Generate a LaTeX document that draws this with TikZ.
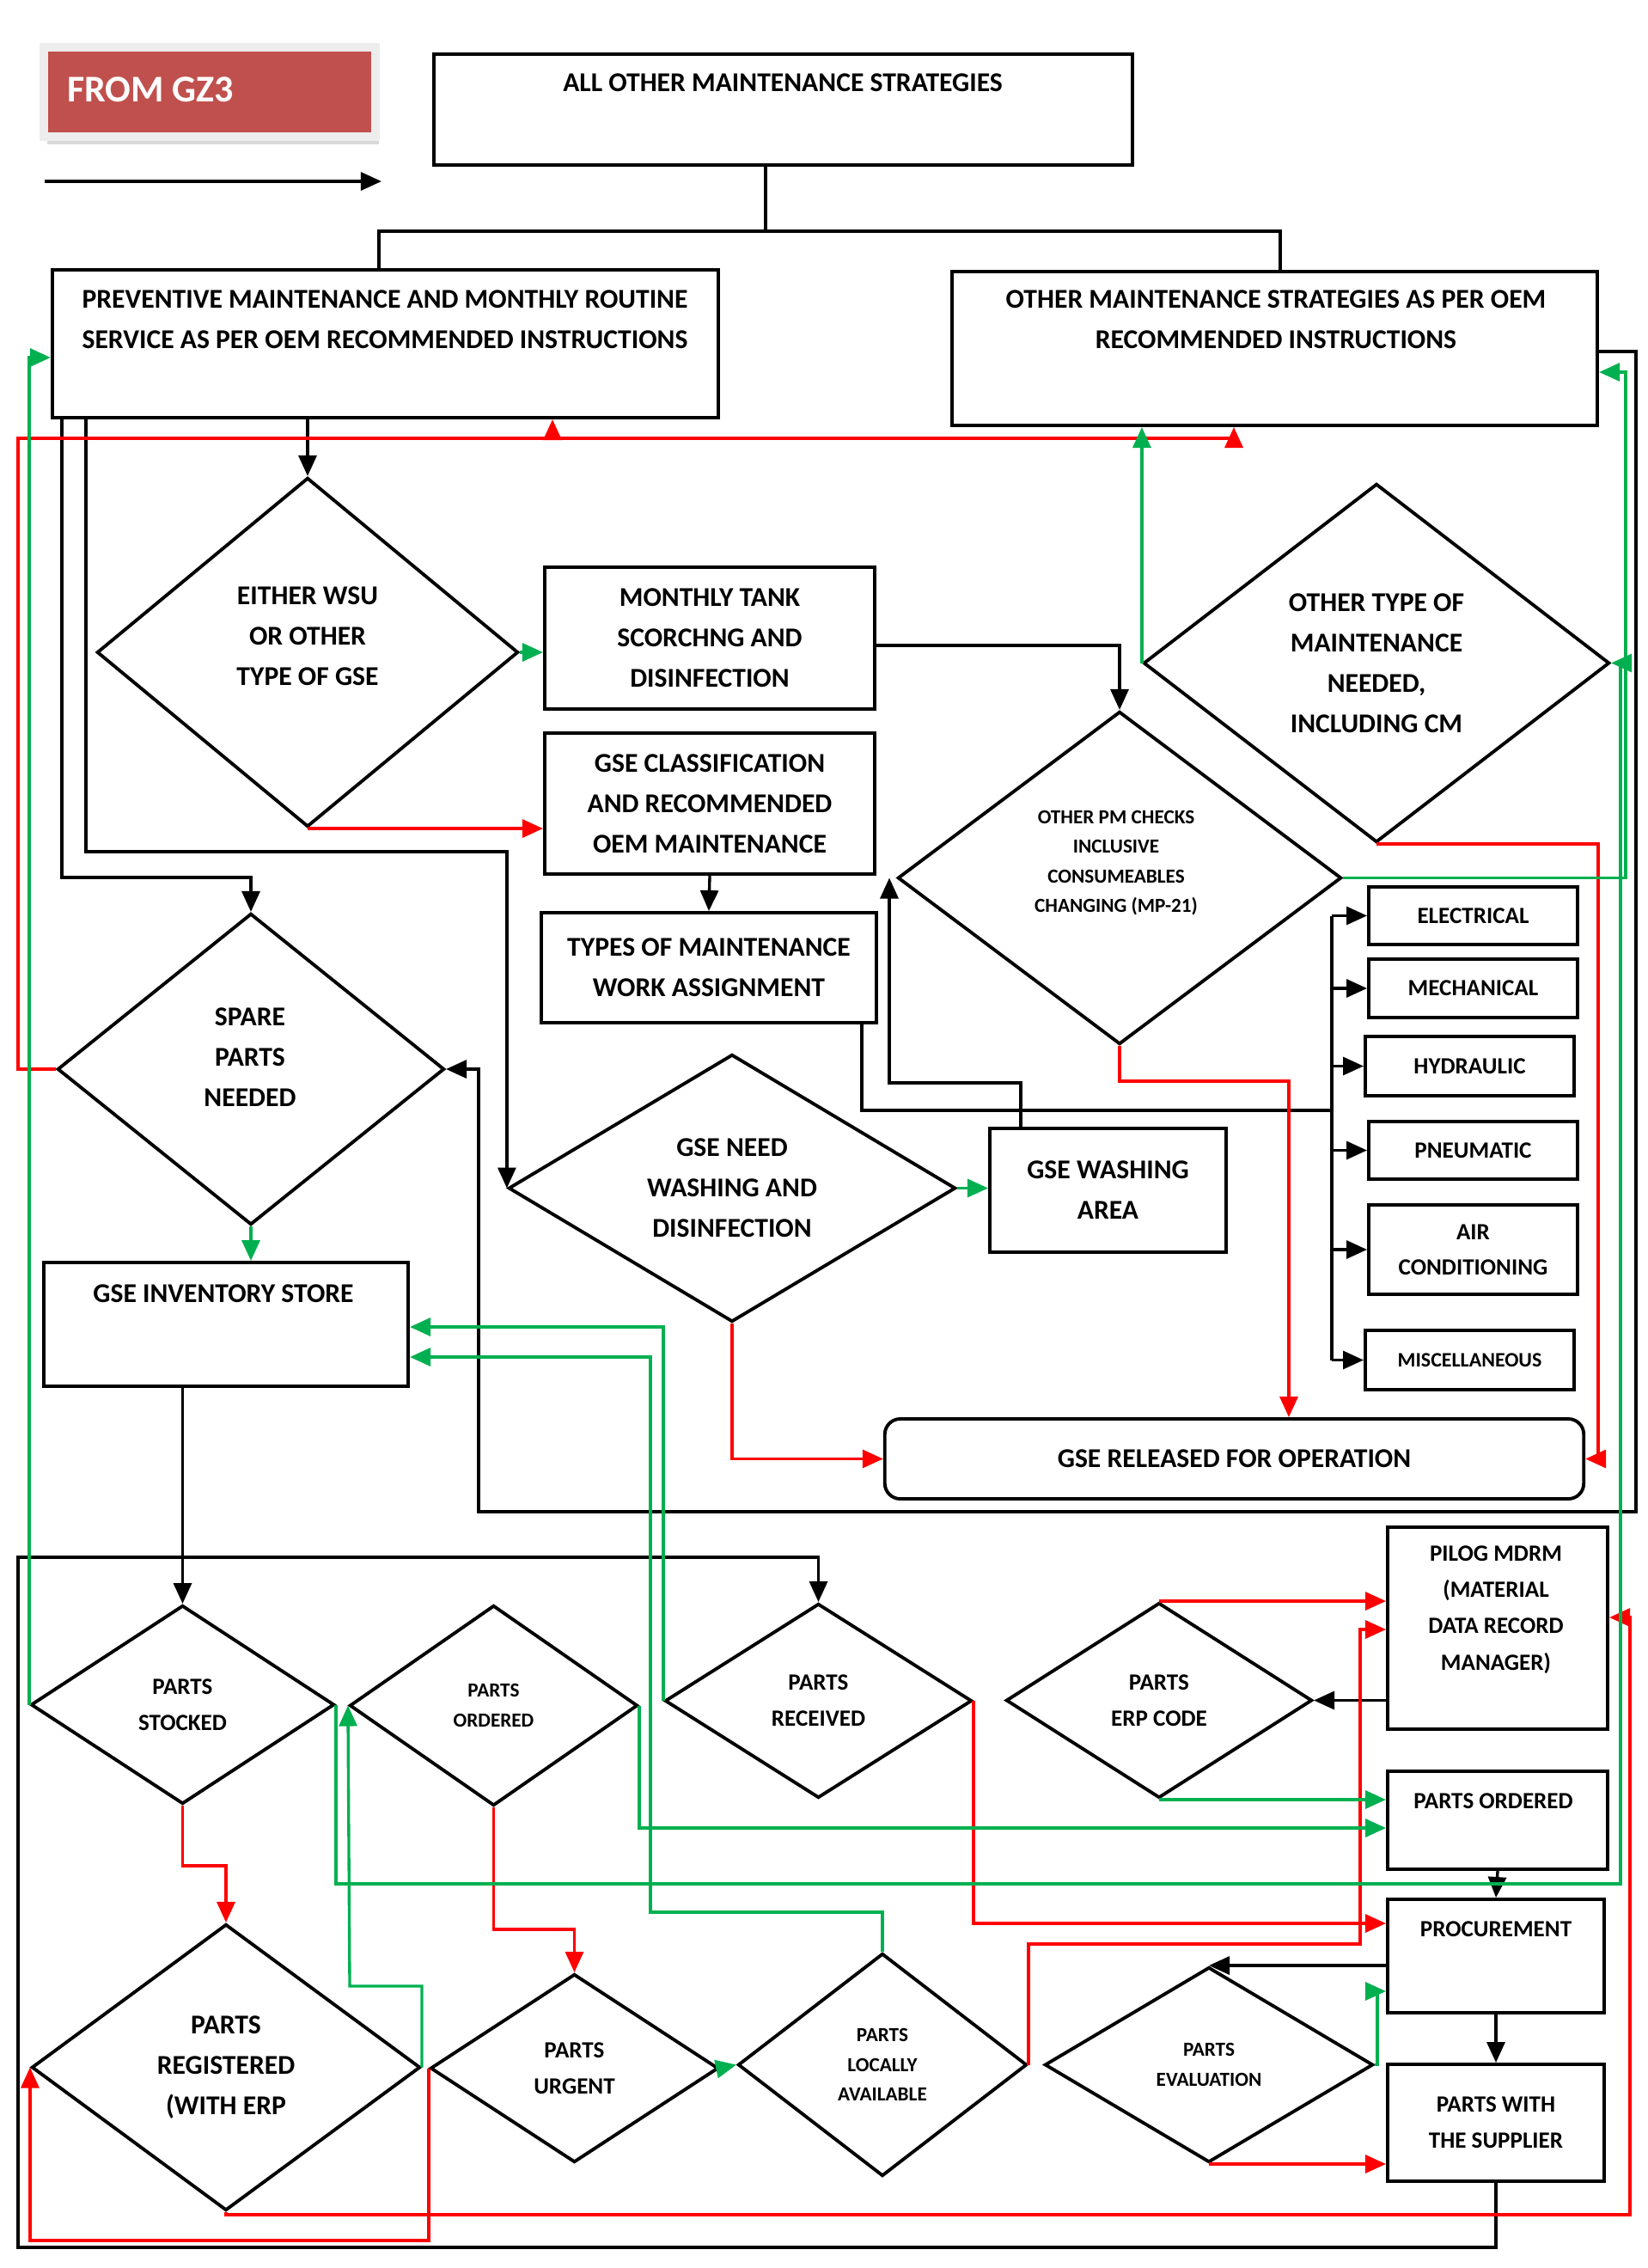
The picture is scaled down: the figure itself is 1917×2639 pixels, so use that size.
\documentclass[tikz,border=0pt]{standalone}
\usepackage{fontspec}
\setmainfont{Carlito}
\usetikzlibrary{shapes.geometric, arrows.meta, shadows}
\definecolor{gzred}{RGB}{192,80,77}
\definecolor{lnred}{RGB}{255,0,0}
\definecolor{lngreen}{RGB}{0,176,80}

\begin{document}
\begin{tikzpicture}[x=0.01cm, y=-0.01cm,
      font=\fontsize{9}{13.4}\selectfont\bfseries,
      box/.style={draw, line width=1.1pt, align=center, inner sep=1pt},
      dia/.style={draw, diamond, aspect=1.5, line width=1.1pt, align=center, inner sep=0pt},
      txt/.style={align=center, inner sep=0pt},
      mid/.style={font=\fontsize{7.7}{12}\selectfont\bfseries},
      sml/.style={font=\fontsize{6.6}{9.8}\selectfont\bfseries},
      cat/.style={box, minimum width=2.43cm, font=\fontsize{7.7}{11.6}\selectfont\bfseries},
      gzbox/.style={fill=gzred, draw=black!7, line width=0.1cm, minimum width=3.86cm, minimum height=1.04cm,
        drop shadow={shadow xshift=0.4mm, shadow yshift=-0.9mm, opacity=0.3}},
      ln/.style={line width=0.95pt},
      arr/.style={ln, -{Triangle[length=2.4mm, width=2.1mm]}},
      rarr/.style={arr, lnred},
      garr/.style={arr, lngreen}]
  \useasboundingbox (0,0) rectangle (1917,2639);

  % top row
  \node[gzbox] (gz) at (244,107) {};
  \node[font=\fontsize{12.5}{14}\selectfont\bfseries, text=white] (gzlbl) at (175,104) {FROM GZ3};
  \coordinate (gzA) at (52,211);
  \coordinate (gzB) at (444,211);
  \draw[arr] (gzA) -- (gzB);
  \node[box, minimum width=8.13cm, minimum height=1.29cm] (allo) at (911.5,127.5) {};
  \node[txt] (allot) at (911,96) {ALL OTHER MAINTENANCE STRATEGIES};
  \node[box, minimum width=7.75cm, minimum height=1.72cm] (pm) at (448.5,400) {};
  \node[txt] (pmt) at (448,372) {PREVENTIVE MAINTENANCE AND MONTHLY ROUTINE\\SERVICE AS PER OEM RECOMMENDED INSTRUCTIONS};
  \node[box, minimum width=7.51cm, minimum height=1.79cm] (oth) at (1483.5,405.5) {};
  \node[txt] (otht) at (1485,372) {OTHER MAINTENANCE STRATEGIES AS PER OEM\\RECOMMENDED INSTRUCTIONS};

  % middle part
  \node[dia, minimum width=4.9cm, minimum height=4.06cm] (wsu) at (358,759) {};
  \node[txt] (wsut) at (358,740) {EITHER WSU\\OR OTHER\\TYPE OF GSE};
  \node[box, minimum width=3.84cm, minimum height=1.65cm] (tank) at (826,742.5) {MONTHLY TANK\\SCORCHNG AND\\DISINFECTION};
  \node[box, minimum width=3.84cm, minimum height=1.64cm] (gcls) at (826,935) {GSE CLASSIFICATION\\AND RECOMMENDED\\OEM MAINTENANCE};
  \node[box, minimum width=3.9cm, minimum height=1.28cm] (types) at (825,1126) {TYPES OF MAINTENANCE\\WORK ASSIGNMENT};
  \node[dia, minimum width=5.16cm, minimum height=3.87cm] (chk) at (1303,1021.5) {};
  \node[txt, sml] (chkt) at (1299,1004) {OTHER PM CHECKS\\INCLUSIVE\\CONSUMEABLES\\CHANGING (MP-21)};
  \node[dia, minimum width=5.42cm, minimum height=4.17cm] (otype) at (1602,771.5) {OTHER TYPE OF\\MAINTENANCE\\NEEDED,\\INCLUDING CM};
  \node[dia, minimum width=4.5cm, minimum height=3.62cm] (spare) at (292,1244) {};
  \node[txt] (sparet) at (291,1230) {SPARE\\PARTS\\NEEDED};
  \node[dia, minimum width=5.2cm, minimum height=3.11cm] (need) at (852,1382.5) {GSE NEED\\WASHING AND\\DISINFECTION};
  \node[box, minimum width=2.75cm, minimum height=1.44cm] (wash) at (1289.5,1385) {GSE WASHING\\AREA};
  \node[box, minimum width=4.24cm, minimum height=1.44cm] (inv) at (263,1541) {};
  \node[txt] (invt) at (260,1505) {GSE INVENTORY STORE};
  \node[box, rounded corners=0.18cm, minimum width=8.13cm, minimum height=0.93cm] (rel) at (1436.5,1697.5) {GSE RELEASED FOR OPERATION};
  \node[cat, minimum height=0.67cm] (elec) at (1714.5,1065.5) {ELECTRICAL};
  \node[cat, minimum height=0.68cm] (mech) at (1714.5,1150) {MECHANICAL};
  \node[cat, minimum height=0.69cm] (hyd) at (1710.5,1240.5) {HYDRAULIC};
  \node[cat, minimum height=0.67cm] (pneu) at (1714.5,1338.5) {PNEUMATIC};
  \node[cat, minimum height=1.04cm] (air) at (1714.5,1454) {AIR\\CONDITIONING};
  \node[cat, minimum height=0.69cm, font=\fontsize{6.8}{9}\selectfont\bfseries] (misc) at (1710.5,1582.5) {MISCELLANEOUS};

  % parts section
  \node[dia, mid, minimum width=3.53cm, minimum height=2.31cm] (stock) at (212.5,1983.5) {PARTS\\STOCKED};
  \node[dia, sml, minimum width=3.35cm, minimum height=2.33cm] (pord) at (574.5,1984.5) {PARTS\\ORDERED};
  \node[dia, mid, minimum width=3.57cm, minimum height=2.26cm] (recv) at (952.5,1979) {PARTS\\RECEIVED};
  \node[dia, mid, minimum width=3.56cm, minimum height=2.27cm] (erp) at (1349,1978.5) {PARTS\\ERP CODE};
  \node[box, minimum width=2.56cm, minimum height=2.35cm] (pilog) at (1743,1894.5) {};
  \node[txt, mid] (pilogt) at (1741,1873) {PILOG MDRM\\(MATERIAL\\DATA RECORD\\MANAGER)};
  \node[box, minimum width=2.56cm, minimum height=1.14cm] (pobox) at (1743,2118) {};
  \node[txt, mid] (poboxt) at (1738,2096) {PARTS ORDERED};
  \node[box, minimum width=2.52cm, minimum height=1.32cm] (proc) at (1741,2276) {};
  \node[txt, mid] (proct) at (1741,2245) {PROCUREMENT};
  \node[box, mid, minimum width=2.52cm, minimum height=1.36cm] (supp) at (1741,2470) {PARTS WITH\\THE SUPPLIER};
  \node[dia, minimum width=4.52cm, minimum height=3.33cm] (regd) at (263,2405.5) {PARTS\\REGISTERED\\(WITH ERP};
  \node[dia, mid, minimum width=3.35cm, minimum height=2.19cm] (urg) at (668.5,2406.5) {PARTS\\URGENT};
  \node[dia, sml, minimum width=3.36cm, minimum height=2.59cm] (loc) at (1027,2402.5) {PARTS\\LOCALLY\\AVAILABLE};
  \node[dia, sml, minimum width=3.82cm, minimum height=2.27cm] (evl) at (1407,2402.5) {PARTS\\EVALUATION};

  % black links
  \coordinate (split) at (891,269);
  \draw[ln] (allo.south -| split) -- (split);
  \draw[ln] (split) -| (pm.north -| 441,0);
  \draw[ln] (split) -| (oth.north -| 1490,0);
  \draw[arr] (pm.south -| wsu.north) -- (wsu.north);
  \draw[arr] (pm.south -| 72,0) -- (72,1021) -| (spare.north);
  \draw[arr] (pm.south -| 100,0) -- (100,991) -| (need.west);
  \draw[arr] (tank.east |- 0,751) -| (chk.north);
  \draw[arr] (gcls.south) -- (types.north);
  \coordinate (brk) at (1550,1292);
  \draw[ln] (types.south -| 1003,0) |- (brk);
  \draw[ln] (elec.west -| brk) -- (misc.west -| brk);
  \foreach \nm in {elec,mech,hyd,pneu,air,misc}
    \draw[arr] (\nm.west -| brk) -- (\nm.west);
  \draw[arr] (wash.north -| 1188,0) -- (1188,1260) -| (chk.west -| 1035,0);
  \draw[arr] (oth.east |- 0,409) -| (1904,1759) -| (spare.east -| 557,0) -- (spare.east);
  \draw[arr] (inv.south -| stock.north) -- (stock.north);
  \draw[arr] (supp.south) -- (supp.south |- 0,2615) -| (21,1812) -| (recv.north);
  \draw[arr] (pilog.west |- erp.east) -- (erp.east);
  \draw[arr] (pobox.south) -- (proc.north);
  \draw[arr] (proc.west |- evl.north) -- (evl.north);
  \draw[arr] (proc.south) -- (supp.north);

  % red links
  \draw[rarr] (spare.west) -| (21,510) -| (oth.south -| 1436,0);
  \coordinate (rj) at (643,510);
  \draw[rarr] (rj) -- (pm.south -| rj);
  \draw[rarr] (wsu.south) -- (gcls.west |- wsu.south);
  \draw[rarr] (need.south) |- (rel.west);
  \draw[rarr] (chk.south) -- (chk.south |- 0,1258) -| (rel.north -| 1500,0);
  \draw[rarr] (otype.south) -| (rel.east -| 1860,0) -- (rel.east);
  \draw[rarr] (stock.south) -- (stock.south |- 0,2171) -| (regd.north);
  \draw[rarr] (pord.south) -- (pord.south |- 0,2245) -| (urg.north);
  \draw[rarr] (recv.east) |- (proc.west |- 0,2238);
  \draw[rarr] (erp.north) -- (pilog.west |- erp.north);
  \draw[rarr] (regd.south) |- (1897,2577) |- (pilog.east |- 0,1882);
  \draw[rarr] (loc.east) |- (1583,2262) |- (pilog.west |- 0,1896);
  \draw[rarr] (evl.south) -- (supp.west |- evl.south);
  \draw[rarr] (urg.west) -- (urg.west |- 0,2607) -| (regd.west);

  % green links
  \draw[garr] (stock.west) |- (pm.west |- 0,416);
  \draw[garr] (wsu.east) -- (tank.west |- wsu.east);
  \draw[garr] (spare.south) -- (inv.north -| spare.south);
  \draw[garr] (need.east) -- (wash.west |- need.east);
  \draw[garr] (chk.east) -| (1892,433) -- (oth.east |- 0,433);
  \draw[garr] (otype.west) -- (oth.south -| otype.west);
  \draw[garr] (stock.east) |- (1886,2192) |- (otype.east);
  \draw[garr] (recv.west) |- (inv.east |- 0,1544);
  \draw[garr] (loc.north) |- (757,2225) |- (inv.east |- 0,1579);
  \draw[garr] (regd.east) |- (407,2311) -- (pord.west);
  \draw[garr] (pord.east) |- (pobox.west |- 0,2127);
  \draw[garr] (erp.south) -- (pobox.west |- erp.south);
  \draw[garr] (urg.east) -- (loc.west);
  \draw[garr] (evl.east) -| (1603,2317) -- (proc.west |- 0,2317);
\end{tikzpicture}
\end{document}
